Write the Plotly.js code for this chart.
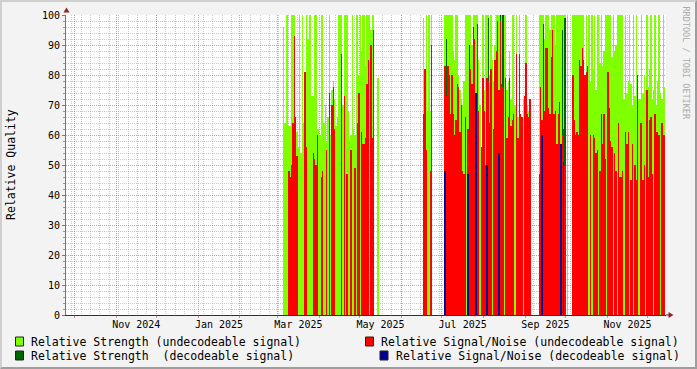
<!DOCTYPE html>
<html><head><meta charset="utf-8">
<script src="https://cdn.plot.ly/plotly-3.0.1.min.js"></script>
<style>
html,body{margin:0;padding:0;background:#f3f3f3;}
#wrap{position:relative;width:697px;height:369px;overflow:hidden;}
#chart{position:absolute;left:0;top:0;width:697px;height:369px;}
#frame{position:absolute;left:0;top:0;width:697px;height:369px;box-sizing:border-box;border-top:2px solid #cfcfcf;border-left:2px solid #cfcfcf;border-right:2px solid #9e9e9e;border-bottom:2px solid #9e9e9e;pointer-events:none;}
.bars path{shape-rendering:crispEdges;}
</style></head>
<body><div id="wrap"><div id="chart"></div><div id="frame"></div></div>
<script>
const _ = null;
// first day of the daily series
const firstDay = '2025-03-05';

// Relative Strength (undecodeable signal), one value per day from firstDay
const strengthUndecodeable = [
96,64,100,100,63,63,100,100,100,62,
61,56,100,54,100,64,64,100,92,100,
100,73,73,100,100,62,62,60,100,100,
64,70,58,66,100,60,75,78,72,63,
66,100,100,100,70,100,100,100,68,58,
60,100,62,60,100,100,80,100,88,100,
100,83,100,100,100,95,100,100,
_,_,79,
_,_,_,_,_,_,_,_,_,_,_,
_,_,_,_,_,_,_,_,_,_,_,
_,_,_,_,_,_,_,_,_,_,_,
99,75,100,68,100,68,100,
_,_,_,_,_,_,_,_,_,
100,100,100,100,100,100,88,85,100,100,
80,75,72,70,78,100,100,100,100,100,
90,100,100,100,100,85,70,56,100,75,
100,100,100,80,100,85,78,90,100,100,
100,100,100,100,100,100,75,78,88,72,
100,100,70,100,66,100,65,62,72,66,
100,70,68,72,
_,_,_,_,_,_,
100,100,100,100,92,100,100,100,95,100,
100,100,90,100,100,100,100,100,100,100,
_,100,_,_,_,
100,100,100,100,100,100,100,100,100,
80,100,76,100,78,100,82,100,75,
100,100,
84,100,83,88,100,
100,100,100,100,
86,100,88,90,
100,100,100,100,100,
72,100,74,78,100,
77,70,100,73,100,76,72,
72,100,74,80,
75,100,76,82,
100,72,75,100,70,78,100,74,72,100,76
];

// Relative Signal/Noise (undecodeable signal), one value per day from firstDay
const snrUndecodeable = [
_,_,_,_,48,46,50,64,93,66,
53,_,_,_,_,_,81,56,_,_,
_,_,54,52,50,60,_,_,46,48,
_,_,55,_,74,_,70,76,62,_,
_,_,_,87,_,73,_,47,_,_,
55,_,_,49,_,64,74,_,61,57,
57,59,77,85,_,90,59,95,
_,_,_,
_,_,_,_,_,_,_,_,_,_,_,
_,_,_,_,_,_,_,_,_,_,_,
_,_,_,_,_,_,_,_,_,_,_,
67,82,55,_,_,48,90,
_,_,_,_,_,_,_,_,_,
83,73,83,80,67,80,67,60,65,77,
76,61,70,48,47,66,_,62,57,82,
77,96,92,69,93,68,_,56,79,68,
50,79,78,64,82,_,62,85,88,98,
75,98,77,76,_,79,59,66,79,63,
65,67,_,87,59,87,67,66,_,73,
84,67,66,72,
_,_,_,_,_,_,
47,76,65,65,68,89,89,69,67,86,
95,67,68,57,67,71,55,60,62,50,
_,_,_,_,_,
80,65,60,61,60,85,83,89,85,80,
81,83,_,60,_,60,59,54,55,_,
48,67,57,67,52,_,81,69,58,56,
_,54,48,_,64,46,46,48,_,61,
57,61,_,45,57,_,50,45,80,_,
64,64,45,50,_,75,46,65,66,47,
_,67,61,61,60,_,64,60,60
];

// Decodeable signal: day number (counted from firstDay) and value
const strengthDecodeableDay   = [121,138,144,152,161,163,193,207,209];
const strengthDecodeableValue = [92, 90, 97, 99, 100,100,97, 95, 99];
const snrDecodeableDay   = [120,137,143,151,160,192,206,208];
const snrDecodeableValue = [48, 47, 74, 50, 54, 60, 57, 51];

// x-axis labels (labelled months)
const tickMonths = ['2024-11','2025-01','2025-03','2025-05','2025-07','2025-09','2025-11'];
const tickLabels = ['Nov 2024','Jan 2025','Mar 2025','May 2025','Jul 2025','Sep 2025','Nov 2025'];

const seriesNames = [
  'Relative Strength (undecodeable signal)',
  'Relative Strength\u00a0 (decodeable signal)',
  'Relative Signal/Noise (undecodeable signal)',
  'Relative Signal/Noise (decodeable signal)'
];
const seriesColors = ['#7fff00','#006400','#ff0000','#000095'];

// ---------- build ----------
const DAY = 86400000;
const t0 = Date.parse(firstDay + 'T00:00:00Z');
function iso(ms){ return new Date(ms).toISOString().slice(0,19).replace('T',' '); }
function dayCenter(i){ return iso(t0 + i*DAY + DAY/2); }

const xAll = strengthUndecodeable.map((v,i)=>dayCenter(i));
const xSnr = snrUndecodeable.map((v,i)=>dayCenter(i));

function barTrace(x, y, color, name){
  return {type:'bar', x:x, y:y, width:DAY, name:name,
    marker:{color:color, opacity:1, line:{width:0}},
    xaxis:'x', yaxis:'y', hoverinfo:'skip', showlegend:false};
}

// month grid lines and label positions
const monthStarts = [];
for (let k=0; k<15; k++){
  const d = new Date(Date.UTC(2024, 9 + k, 1));
  monthStarts.push(iso(d.getTime()));
}
const labelMids = tickMonths.map(m=>{
  const [yy,mm] = m.split('-').map(Number);
  const a = Date.UTC(yy, mm-1, 1), b = Date.UTC(yy, mm, 1);
  return iso((a+b)/2);
});

const xRange = ['2024-09-24 20:00','2025-12-14 14:00'];

const traces = [
  barTrace(xAll, strengthUndecodeable, seriesColors[0], seriesNames[0]),
  barTrace(strengthDecodeableDay.map(dayCenter), strengthDecodeableValue, seriesColors[1], seriesNames[1]),
  barTrace(xSnr, snrUndecodeable, seriesColors[2], seriesNames[2]),
  barTrace(snrDecodeableDay.map(dayCenter), snrDecodeableValue, seriesColors[3], seriesNames[3]),
  {type:'scatter', mode:'markers', x:labelMids, y:labelMids.map(()=>null),
   xaxis:'x2', yaxis:'y', showlegend:false, hoverinfo:'skip'}
];

// pixel -> paper helpers (plot area: x 66..666, y 15..315)
const L=66, T=15, W=600, H=300;
const px = x => (x - L)/W;
const py = y => (T + H - y)/H;

const mono = 'DejaVu Sans Mono, monospace';
const majorGrid = 'rgba(225,70,70,0.6)';
const minorGrid = 'rgba(150,150,150,0.5)';
const arrowColor = '#9a1f1f';

const shapes = [
  {type:'path', xref:'paper', yref:'paper', path:`M ${px(66.5)} ${py(7.5)} L ${px(63.5)} ${py(12.5)} L ${px(69.5)} ${py(12.5)} Z`, fillcolor:arrowColor, line:{width:0}},
  {type:'line', xref:'paper', yref:'paper', x0:1, x1:px(669), y0:0, y1:0, line:{color:'#2b2b6b', width:1}},
  {type:'path', xref:'paper', yref:'paper', path:`M ${px(673.5)} ${py(315)} L ${px(668.5)} ${py(312)} L ${px(668.5)} ${py(318)} Z`, fillcolor:arrowColor, line:{width:0}},
];
const annotations = [
  {xref:'paper', yref:'paper', x:px(11), y:0.5, text:'Relative Quality', textangle:-90, showarrow:false,
   xanchor:'center', yanchor:'middle', font:{family:mono, size:11.5, color:'#000'}},
  {xref:'paper', yref:'paper', x:px(686), y:py(4), text:'RRDTOOL / TOBI OETIKER', textangle:90, showarrow:false,
   xanchor:'center', yanchor:'top', font:{family:mono, size:8.5, color:'#ababab'}},
];
// legend (rrdtool style: two columns, right column right-justified)
const legendItems = [
  {sx:15.5, tx:30,    y:341.5},
  {sx:15.5, tx:30,    y:355.5},
  {sx:365.5, tx:380,  y:341.5},
  {sx:380,  tx:394.5, y:355.5},
];
legendItems.forEach((it, k)=>{
  shapes.push({type:'rect', xref:'paper', yref:'paper', x0:px(it.sx), x1:px(it.sx+8), y0:py(it.y+4.5), y1:py(it.y-4.5),
    fillcolor:seriesColors[k], line:{color:'#222', width:1}});
  annotations.push({xref:'paper', yref:'paper', x:px(it.tx), y:py(it.y), text:seriesNames[k], showarrow:false,
    xanchor:'left', yanchor:'middle', borderpad:0, font:{family:mono, size:11.5, color:'#000'}});
});

const layout = {
  width:697, height:369,
  margin:{l:L, r:697-L-W, t:T, b:369-T-H, pad:0},
  paper_bgcolor:'#f3f3f3', plot_bgcolor:'#ffffff',
  barmode:'overlay', showlegend:false,
  xaxis:{type:'date', range:xRange, tickmode:'array', tickvals:monthStarts, ticktext:monthStarts.map(()=>''),
    showticklabels:false, showgrid:true, gridcolor:majorGrid, griddash:'1px,1px', gridwidth:1,
    ticks:'outside', ticklen:2, tickcolor:majorGrid,
    showline:true, linecolor:'#2b2b6b', linewidth:1, zeroline:false, fixedrange:true,
    minor:{tickmode:'linear', tick0:'2024-09-29', dtick:7*DAY, showgrid:true, gridcolor:minorGrid, griddash:'1px,1px', ticks:''}},
  xaxis2:{type:'date', overlaying:'x', anchor:'y', side:'bottom', range:xRange,
    tickmode:'array', tickvals:labelMids, ticktext:tickLabels, showgrid:false, showline:false, zeroline:false,
    ticks:'', ticklabelstandoff:2, tickfont:{family:mono, size:10, color:'#000'}, fixedrange:true},
  yaxis:{range:[0,100], tickmode:'linear', tick0:0, dtick:10, showgrid:true, gridcolor:majorGrid, griddash:'1px,1px',
    ticks:'outside', ticklen:3, tickcolor:'#777', showline:true, linecolor:'#777', linewidth:1, zeroline:false,
    tickfont:{family:mono, size:10, color:'#000'}, fixedrange:true,
    minor:{tickmode:'linear', tick0:0, dtick:2, showgrid:true, gridcolor:minorGrid, griddash:'1px,1px', ticks:'outside', ticklen:2, tickcolor:'#999'}},
  shapes:shapes, annotations:annotations,
  font:{family:mono}
};

Plotly.newPlot('chart', traces, layout, {staticPlot:true, displayModeBar:false});
</script>
</body></html>
